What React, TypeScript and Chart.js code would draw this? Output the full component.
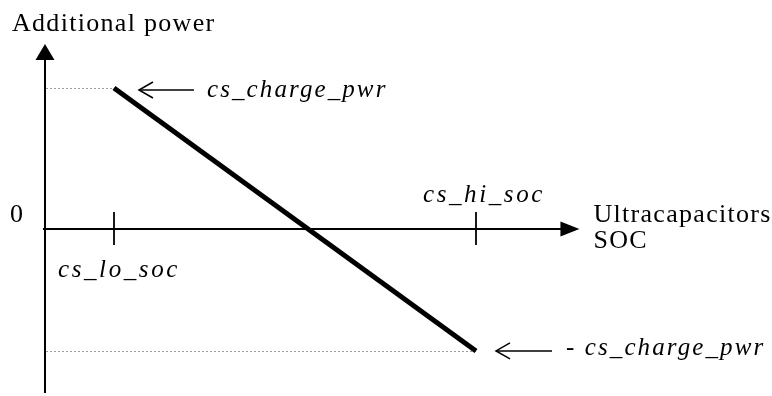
import React, { useEffect, useRef } from "react";
import { Chart, registerables } from "chart.js";

Chart.register(...registerables);

// ---- data (abstract units) ----
const socTickValues = [0.16, 1.0]; // cs_lo_soc, cs_hi_soc
const socTickLabels = ["cs_lo_soc", "cs_hi_soc"];
const lineSoc = [0.16, 1.0];
const linePower = [1.0, -0.865]; // cs_charge_pwr, - cs_charge_pwr
const powerLabels = ["cs_charge_pwr", "- cs_charge_pwr"];
const xAxisExtent = [0, 1.24];
const yAxisExtent = [-1.163, 1.312];
const xTitle = ["Ultracapacitors", "SOC"];
const yTitle = "Additional power";
const zeroLabel = "0";

const SERIF = '"Liberation Serif", "Times New Roman", serif';

function setFont(ctx: CanvasRenderingContext2D, font: string, spacing: number) {
  ctx.font = font;
  (ctx as any).letterSpacing = spacing + "px";
}

const diagramPlugin = {
  id: "diagram",
  beforeDatasetsDraw(chart: any) {
    const ctx: CanvasRenderingContext2D = chart.ctx;
    const xs = chart.scales.x;
    const ys = chart.scales.y;
    const x0 = xs.getPixelForValue(0);
    const y0 = ys.getPixelForValue(0);
    const xEnd = xs.getPixelForValue(xAxisExtent[1]);
    const yTop = ys.getPixelForValue(yAxisExtent[1]);
    const yBot = ys.getPixelForValue(yAxisExtent[0]);
    ctx.save();
    // dotted reference lines
    ctx.strokeStyle = "#9a9a9a";
    ctx.lineWidth = 1;
    ctx.setLineDash([2, 2]);
    for (let i = 0; i < lineSoc.length; i++) {
      const px = xs.getPixelForValue(lineSoc[i]);
      const py = Math.round(ys.getPixelForValue(linePower[i])) + 0.5;
      ctx.beginPath();
      ctx.moveTo(x0 + 1, py);
      ctx.lineTo(px, py);
      ctx.stroke();
    }
    ctx.setLineDash([]);
    // axes
    ctx.strokeStyle = "#000";
    ctx.fillStyle = "#000";
    ctx.lineWidth = 2;
    ctx.beginPath();
    ctx.moveTo(x0, yBot);
    ctx.lineTo(x0, yTop + 10);
    ctx.stroke();
    ctx.beginPath();
    ctx.moveTo(x0 - 2, y0);
    ctx.lineTo(xEnd - 10, y0);
    ctx.stroke();
    // arrow heads
    ctx.beginPath();
    ctx.moveTo(x0, yTop);
    ctx.lineTo(x0 - 9.5, yTop + 16);
    ctx.lineTo(x0 + 9.5, yTop + 16);
    ctx.closePath();
    ctx.fill();
    ctx.beginPath();
    ctx.moveTo(xEnd, y0);
    ctx.lineTo(xEnd - 19, y0 - 7.5);
    ctx.lineTo(xEnd - 19, y0 + 7.5);
    ctx.closePath();
    ctx.fill();
    // ticks
    ctx.lineWidth = 1.8;
    socTickValues.forEach((v) => {
      const px = Math.round(xs.getPixelForValue(v));
      ctx.beginPath();
      ctx.moveTo(px, y0 - 17);
      ctx.lineTo(px, y0 + 16);
      ctx.stroke();
    });
    ctx.restore();
  },
  afterDatasetsDraw(chart: any) {
    const ctx: CanvasRenderingContext2D = chart.ctx;
    const xs = chart.scales.x;
    const ys = chart.scales.y;
    const x0 = xs.getPixelForValue(0);
    const y0 = ys.getPixelForValue(0);
    const xEnd = xs.getPixelForValue(xAxisExtent[1]);
    const yTop = ys.getPixelForValue(yAxisExtent[1]);
    ctx.save();
    ctx.fillStyle = "#000";
    ctx.strokeStyle = "#000";
    ctx.textBaseline = "alphabetic";
    // upright texts
    setFont(ctx, "26px " + SERIF, 1.3);
    ctx.textAlign = "left";
    ctx.fillText(yTitle, x0 - 33, yTop - 13);
    ctx.fillText(xTitle[0], xEnd + 14, y0 - 7);
    ctx.fillText(xTitle[1], xEnd + 14, y0 + 19);
    setFont(ctx, "26px " + SERIF, 0);
    ctx.textAlign = "right";
    ctx.fillText(zeroLabel, x0 - 22, y0 - 7);
    // italic tick labels
    ctx.textAlign = "left";
    setFont(ctx, "italic 25px " + SERIF, 2.6);
    const loPx = xs.getPixelForValue(socTickValues[0]);
    const hiPx = xs.getPixelForValue(socTickValues[1]);
    ctx.fillText(socTickLabels[0], loPx - 56, y0 + 48);
    ctx.fillText(socTickLabels[1], hiPx - 53, y0 - 27);
    // power annotations with open arrows
    const drawOpenArrow = (xTip: number, xTail: number, y: number) => {
      ctx.lineWidth = 1.5;
      ctx.beginPath();
      ctx.moveTo(xTail, y);
      ctx.lineTo(xTip, y);
      ctx.stroke();
      ctx.beginPath();
      ctx.moveTo(xTip + 14, y - 8);
      ctx.lineTo(xTip, y);
      ctx.lineTo(xTip + 14, y + 8);
      ctx.stroke();
    };
    const sx = xs.getPixelForValue(lineSoc[0]);
    const sy = ys.getPixelForValue(linePower[0]);
    drawOpenArrow(sx + 25, sx + 80, sy + 2);
    setFont(ctx, "italic 25px " + SERIF, 2.1);
    ctx.fillText(powerLabels[0], sx + 93, sy + 9);
    const ex = xs.getPixelForValue(lineSoc[1]);
    const ey = ys.getPixelForValue(linePower[1]);
    drawOpenArrow(ex + 20, ex + 76, ey);
    ctx.fillText(powerLabels[1], ex + 90, ey + 4);
    ctx.restore();
  },
};

export default function App() {
  const ref = useRef<HTMLCanvasElement | null>(null);
  useEffect(() => {
    if (!ref.current) return;
    const chart = new Chart(ref.current, {
      type: "line",
      data: {
        datasets: [
          {
            data: lineSoc.map((s, i) => ({ x: s, y: linePower[i] })),
            borderColor: "#000",
            borderWidth: 5,
            pointRadius: 0,
            borderCapStyle: "butt",
            fill: false,
          },
        ],
      },
      options: {
        animation: false,
        responsive: true,
        maintainAspectRatio: false,
        layout: { padding: 0 },
        plugins: { legend: { display: false }, tooltip: { enabled: false } },
        events: [],
        scales: {
          x: { type: "linear", display: false, min: -0.1044, max: 1.6868 },
          y: { type: "linear", display: false, min: -1.1844, max: 1.6241 },
        },
      },
      plugins: [diagramPlugin],
    });
    return () => chart.destroy();
  }, []);
  return (
    <div style={{ position: "fixed", left: 0, top: 0, width: 772, height: 396, background: "#fff" }}>
      <canvas ref={ref} />
    </div>
  );
}
